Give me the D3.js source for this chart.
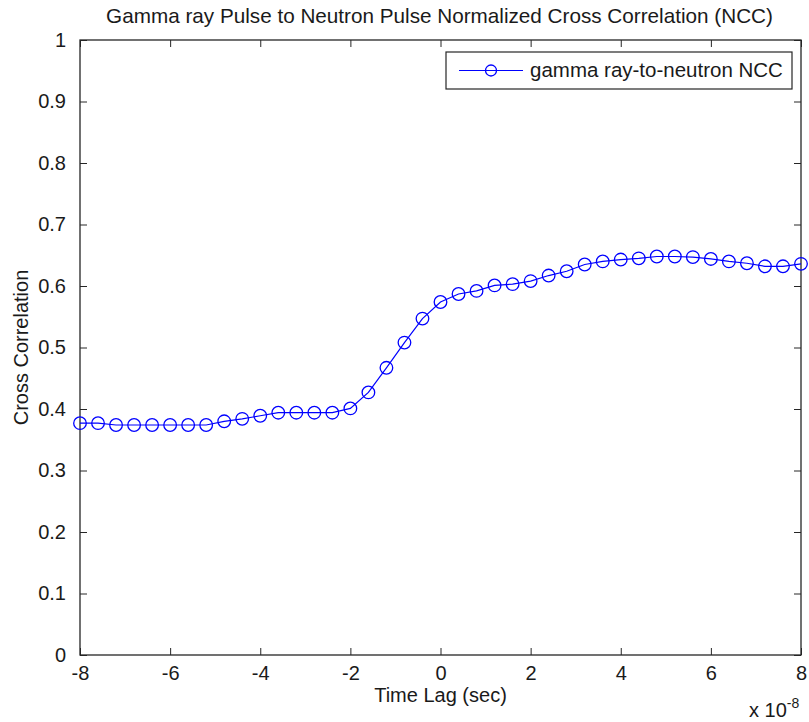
<!DOCTYPE html>
<html>
<head>
<meta charset="utf-8">
<script src="https://cdn.jsdelivr.net/npm/d3@7"></script>
<style>
  body { margin: 0; background: #fff; }
  text { font-family: "Liberation Sans", Arial, sans-serif; fill: #1a1a1a; }
</style>
</head>
<body>
<svg id="container" width="809" height="722"></svg>
<script>
// time lag in units of 1e-8 sec
let timeLag = [-8.0, -7.6, -7.2, -6.8, -6.4, -6.0, -5.6, -5.2, -4.8, -4.4, -4.0,
    -3.6, -3.2, -2.8, -2.4, -2.0, -1.6, -1.2, -0.8, -0.4, 0.0,
    0.4, 0.8, 1.2, 1.6, 2.0, 2.4, 2.8, 3.2, 3.6, 4.0,
    4.4, 4.8, 5.2, 5.6, 6.0, 6.4, 6.8, 7.2, 7.6, 8.0]

let ncc = [0.377, 0.377, 0.374, 0.374, 0.374, 0.374, 0.374, 0.374, 0.380, 0.384, 0.389,
    0.394, 0.394, 0.394, 0.394, 0.401, 0.427, 0.467, 0.508, 0.547, 0.574,
    0.587, 0.592, 0.601, 0.603, 0.608, 0.617, 0.624, 0.635, 0.640, 0.643,
    0.645, 0.648, 0.648, 0.647, 0.644, 0.640, 0.637, 0.632, 0.632, 0.636]

let xTicks = [-8, -6, -4, -2, 0, 2, 4, 6, 8]
let yTicks = [0, 0.1, 0.2, 0.3, 0.4, 0.5, 0.6, 0.7, 0.8, 0.9, 1]

let titleText = "Gamma ray Pulse to Neutron Pulse Normalized Cross Correlation (NCC)"
let legendLabel = "gamma ray-to-neutron NCC"

let mLeft = 80, mRight = 801, mTop = 40, mBottom = 655;
let fs = "20px"

let svg = d3.select("#container")

let xScale = d3.scaleLinear().domain([-8, 8]).range([mLeft, mRight])
let yScale = d3.scaleLinear().domain([0, 1]).range([mBottom, mTop])

let data = timeLag.map((t, i) => ({ t: t, v: ncc[i] }))

// axes (ticks point inward, like matlab), plain hyphen for negatives
let fmtX = d => String(d)
let fmtY = d => d == 0 || d == 1 ? String(d) : d.toFixed(1)

let xAxis = svg.append("g")
    .attr("transform", "translate(0," + mBottom + ")")
    .call(d3.axisBottom(xScale).tickValues(xTicks).tickSizeInner(-7).tickSizeOuter(0).tickPadding(11).tickFormat(fmtX))
let xTop = svg.append("g")
    .attr("transform", "translate(0," + mTop + ")")
    .call(d3.axisTop(xScale).tickValues(xTicks).tickSizeInner(-7).tickSizeOuter(0).tickFormat(""))
let yAxis = svg.append("g")
    .attr("transform", "translate(" + mLeft + ",0)")
    .call(d3.axisLeft(yScale).tickValues(yTicks).tickSizeInner(-7).tickSizeOuter(0).tickPadding(14).tickFormat(fmtY))
let yRight = svg.append("g")
    .attr("transform", "translate(" + mRight + ",0)")
    .call(d3.axisRight(yScale).tickValues(yTicks).tickSizeInner(-7).tickSizeOuter(0).tickFormat(""))

svg.selectAll(".domain").remove()
svg.selectAll(".tick line").attr("stroke", "#262626")
svg.selectAll(".tick text")
    .attr("font-size", fs)
    .attr("font-family", "Liberation Sans, Arial, sans-serif")
    .attr("fill", "#1a1a1a")

svg.append("rect")
    .attr("x", mLeft)
    .attr("y", mTop)
    .attr("width", mRight - mLeft)
    .attr("height", mBottom - mTop)
    .attr("fill", "none")
    .attr("stroke", "#262626")
    .attr("stroke-width", 1.3)

// series
let valueline = d3.line()
    .x(d => xScale(d.t))
    .y(d => yScale(d.v))

svg.append("path")
    .datum(data)
    .attr("d", valueline)
    .attr("fill", "none")
    .attr("stroke", "#0000ff")
    .attr("stroke-width", 1.2)

svg.append("g")
    .selectAll("circle")
    .data(data)
    .enter()
    .append("circle")
    .attr("cx", d => xScale(d.t))
    .attr("cy", d => yScale(d.v))
    .attr("r", 6.3)
    .attr("fill", "none")
    .attr("stroke", "#0000ff")
    .attr("stroke-width", 1.3)

// title and labels
svg.append("text")
    .attr("x", (mLeft + mRight) / 2 - 1)
    .attr("y", 23)
    .attr("text-anchor", "middle")
    .attr("font-size", "20.7px")
    .text(titleText)

svg.append("text")
    .attr("x", (mLeft + mRight) / 2)
    .attr("y", 702)
    .attr("text-anchor", "middle")
    .attr("font-size", fs)
    .text("Time Lag (sec)")

svg.append("text")
    .attr("transform", "translate(28," + ((mTop + mBottom) / 2) + ") rotate(-90)")
    .attr("text-anchor", "middle")
    .attr("font-size", fs)
    .text("Cross Correlation")

let mult = svg.append("text")
    .attr("x", 749)
    .attr("y", 717)
    .attr("font-size", fs)
mult.append("tspan").text("x 10")
mult.append("tspan").attr("dy", -9).attr("font-size", "14px").text("-8")

// legend
let lg = svg.append("g").attr("transform", "translate(446,52)")
lg.append("rect")
    .attr("width", 346)
    .attr("height", 37)
    .attr("fill", "#fff")
    .attr("stroke", "#262626")
    .attr("stroke-width", 1.2)
lg.append("line")
    .attr("x1", 13).attr("x2", 77)
    .attr("y1", 18.5).attr("y2", 18.5)
    .attr("stroke", "#0000ff")
    .attr("stroke-width", 1.2)
lg.append("circle")
    .attr("cx", 45).attr("cy", 18.5)
    .attr("r", 5.5)
    .attr("fill", "none")
    .attr("stroke", "#0000ff")
    .attr("stroke-width", 1.3)
lg.append("text")
    .attr("x", 84)
    .attr("y", 25)
    .attr("font-size", "20.5px")
    .text(legendLabel)
</script>
</body>
</html>
